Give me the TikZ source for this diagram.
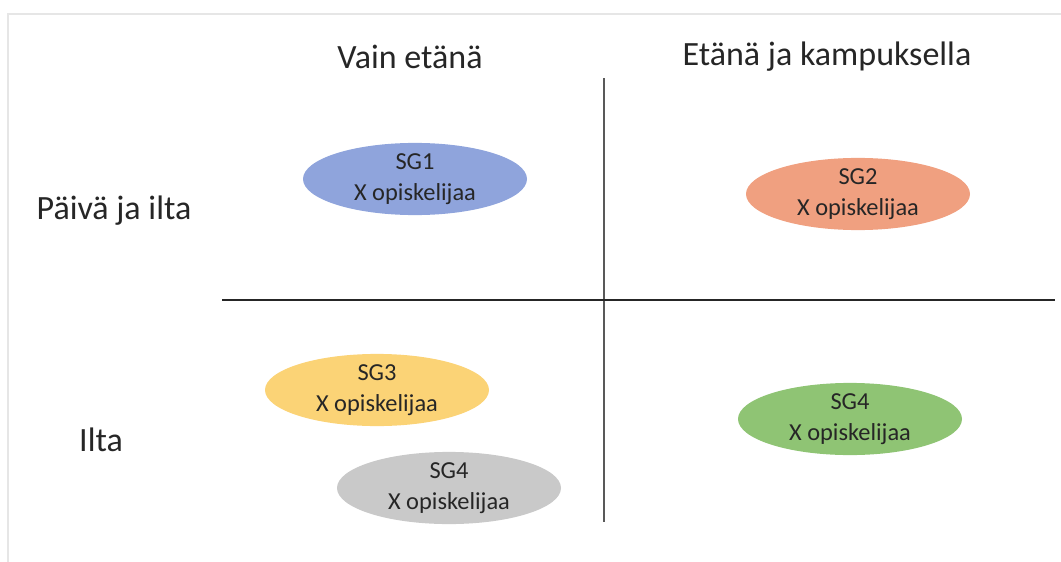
\documentclass[tikz,border=0pt]{standalone}
\usepackage{fontspec}
\setmainfont{Carlito}
\usetikzlibrary{positioning,shapes.geometric}
\definecolor{sgblue}{RGB}{143,164,220}
\definecolor{sgorange}{RGB}{240,160,128}
\definecolor{sgyellow}{RGB}{251,211,118}
\definecolor{sggray}{RGB}{201,201,201}
\definecolor{sggreen}{RGB}{143,196,116}
\definecolor{framegray}{RGB}{230,230,230}
\definecolor{ink}{RGB}{38,38,38}

\begin{document}
\begin{tikzpicture}[x=0.5pt,y=-0.5pt,
    group/.style={ellipse,minimum width=112pt,minimum height=35pt,inner sep=0pt,align=center,text=ink,font=\fontsize{12.2}{15.5}\selectfont},
    head/.style={text=ink,font=\fontsize{17}{20}\selectfont},
    axis/.style={draw=black!85,line width=1pt}]
    \useasboundingbox (0,0) rectangle (1061,562);
    \draw[framegray,line width=1pt] (1061,14) -- (8,14) -- (8,562);
    % column and row headings
    \node[head] (remote) at (410,57) {Vain etänä} ;
    \node[head] (campus) at (827,57) {Etänä ja kampuksella} ;
    \node[head] (dayeve) at (114,211) {Päivä ja ilta} ;
    \node[head] (eve) at (101,440) {Ilta} ;
    % axes
    \coordinate (top) at (604,78) ;
    \coordinate (bottom) at (604,522) ;
    \coordinate (left) at (222,300) ;
    \coordinate (right) at (1055,300) ;
    \draw[axis,draw=black!65] (top) -- (bottom) ;
    \draw[axis] (left) -- (right) ;
    % groups
    \node[group,fill=sgblue] (sg1) at (415,179) {SG1\\ X opiskelijaa} ;
    \node[group,fill=sgorange] (sg2) at (858,194) {SG2\\ X opiskelijaa} ;
    \node[group,fill=sgyellow] (sg3) at (377,390) {SG3\\ X opiskelijaa} ;
    \node[group,fill=sggray] (sg4a) at (449,488) {SG4\\ X opiskelijaa} ;
    \node[group,fill=sggreen] (sg4b) at (850,419) {SG4\\ X opiskelijaa} ;
\end{tikzpicture}
\end{document}
